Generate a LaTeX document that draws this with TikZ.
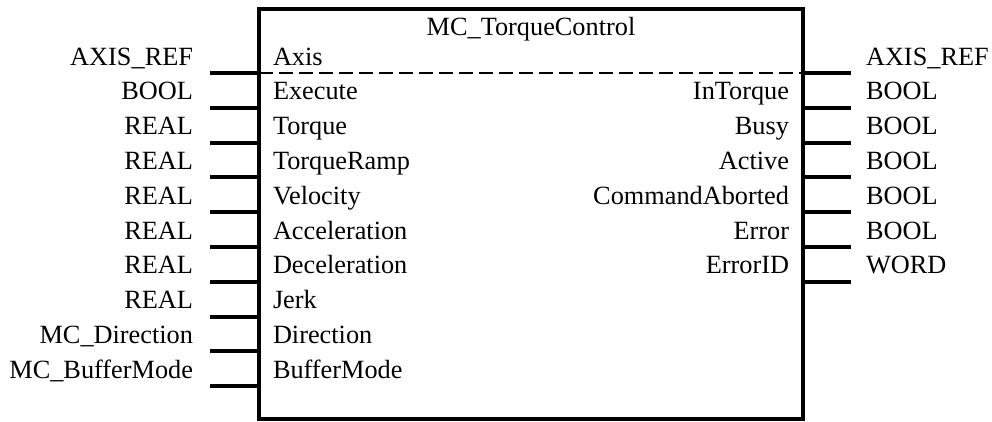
\documentclass[tikz,border=0pt]{standalone}
\usepackage{fontspec}
\setmainfont{Liberation Serif}
\begin{document}
\begin{tikzpicture}[x=1pt,y=-1pt,
  every node/.style={inner sep=0pt,outer sep=0pt,font=\fontsize{26.3}{30}\selectfont},
  fbframe/.style={line width=4.5pt},
  pin/.style={line width=4pt},
  sep/.style={line width=2pt,dash pattern=on 14pt off 6pt},
  lbl/.style={anchor=base west},
  rlbl/.style={anchor=base east}]
\useasboundingbox (0,0) rectangle (992,421);

% function block frame
\coordinate (tl) at (259,9);
\coordinate (br) at (803,419);
\draw[fbframe] (tl) rectangle (br);
\node[anchor=base] (title) at (531,35) {MC\_TorqueControl};

% axis separator
\coordinate (sepL) at (259,73);
\coordinate (sepR) at (803,73);
\draw[sep] (sepL) -- (sepR);

% inputs: line y, data type, parameter
\foreach \y/\typ/\pname [count=\i] in {
  73/AXIS\_REF/Axis,
  107.8/BOOL/Execute,
  142.6/REAL/Torque,
  177.4/REAL/TorqueRamp,
  212.2/REAL/Velocity,
  247/REAL/Acceleration,
  281.8/REAL/Deceleration,
  316.6/REAL/Jerk,
  351.4/MC\_Direction/Direction,
  386.2/MC\_BufferMode/BufferMode}{
  \coordinate (in\i) at (210,\y);
  \coordinate (inb\i) at (259,\y);
  \draw[pin] (in\i) -- (inb\i);
  \node[rlbl] (intype\i) at (193,\y-8) {\typ};
  \node[lbl] (inname\i) at (273,\y-8) {\pname};
}

% outputs: line y, parameter, data type
\foreach \y/\pname/\typ [count=\i] in {
  73/{}/AXIS\_REF,
  107.8/InTorque/BOOL,
  142.6/Busy/BOOL,
  177.4/Active/BOOL,
  212.2/CommandAborted/BOOL,
  247/Error/BOOL,
  281.8/ErrorID/WORD}{
  \coordinate (outb\i) at (803,\y);
  \coordinate (out\i) at (851,\y);
  \draw[pin] (outb\i) -- (out\i);
  \node[rlbl] (outname\i) at (789,\y-8) {\pname};
  \node[lbl] (outtype\i) at (866,\y-8) {\typ};
}
\end{tikzpicture}
\end{document}
